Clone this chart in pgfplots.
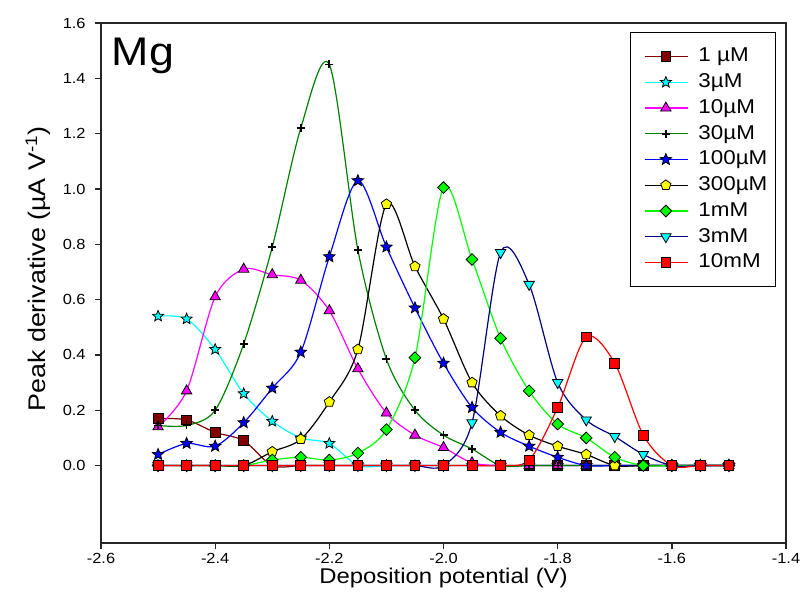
\documentclass[border=0pt]{standalone}
\usepackage{fontspec}
\setmainfont{Liberation Sans}[FakeStretch=1.12]
\usepackage{pgfplots}
\pgfplotsset{compat=1.18}
\usepackage{pgfplotstable}
\usetikzlibrary{plotmarks}

\definecolor{maroonc}{RGB}{128,0,0}
\definecolor{dgreen}{RGB}{0,128,0}
\definecolor{navyc}{RGB}{0,0,128}
\definecolor{lgreen}{RGB}{0,255,0}
\definecolor{cyanc}{RGB}{0,255,255}
\definecolor{magc}{RGB}{255,0,255}
\definecolor{bluec}{RGB}{0,0,255}
\definecolor{redc}{RGB}{255,0,0}
\definecolor{yellowc}{RGB}{255,255,0}

\pgfdeclareplotmark{fstar}{%
  \pgfpathmoveto{\pgfpointpolar{90}{\pgfplotmarksize}}%
  \pgfpathlineto{\pgfpointpolar{126}{0.45\pgfplotmarksize}}%
  \pgfpathlineto{\pgfpointpolar{162}{\pgfplotmarksize}}%
  \pgfpathlineto{\pgfpointpolar{198}{0.45\pgfplotmarksize}}%
  \pgfpathlineto{\pgfpointpolar{234}{\pgfplotmarksize}}%
  \pgfpathlineto{\pgfpointpolar{270}{0.45\pgfplotmarksize}}%
  \pgfpathlineto{\pgfpointpolar{306}{\pgfplotmarksize}}%
  \pgfpathlineto{\pgfpointpolar{342}{0.45\pgfplotmarksize}}%
  \pgfpathlineto{\pgfpointpolar{18}{\pgfplotmarksize}}%
  \pgfpathlineto{\pgfpointpolar{54}{0.45\pgfplotmarksize}}%
  \pgfpathclose
  \pgfusepathqfillstroke
}

\pgfplotstableread{
x     a     b     c     d     e     f     g     h     i
-2.50 0.17  0.54  0.14  0.145 0.04  0     0     0     0
-2.45 0.165 0.53  0.27  0.145 0.08  0     0     0     0
-2.40 0.12  0.42  0.61  0.20  0.07  0     0     0     0
-2.35 0.09  0.26  0.71  0.44  0.155 0     0     0     0
-2.30 0     0.16  0.69  0.79  0.28  0.05  0.02  0     0
-2.25 0     0.10  0.67  1.22  0.41  0.095 0.03  0     0
-2.20 0     0.08  0.56  1.45  0.755 0.23  0.02  0     0
-2.15 0     0     0.35  0.78  1.03  0.42  0.045 0     0
-2.10 0     0     0.19  0.385 0.79  0.945 0.13  0     0
-2.05 0     0     0.11  0.20  0.57  0.72  0.39  0     0
-2.00 0     0     0.065 0.11  0.37  0.53  1.005 0     0
-1.95 0     0     0.01  0.06  0.21  0.30  0.745 0.155 0
-1.90 0     0     0     0     0.12  0.18  0.46  0.77  0
-1.85 0     0     0     0     0.07  0.11  0.27  0.655 0.02
-1.80 0     0     0     0     0.03  0.07  0.15  0.30  0.21
-1.75 0     0     0     0     0     0.04  0.10  0.165 0.465
-1.70 0     0     0     0     0     0     0.03  0.105 0.37
-1.65 0     0     0     0     0     0     0     0.04  0.11
-1.60 0     0     0     0     0     0     0     0     0
-1.55 0     0     0     0     0     0     0     0     0
-1.50 0     0     0     0     0     0     0     0     0
}\data

\begin{document}
\begin{tikzpicture}
\useasboundingbox (-75.75pt,-40.5pt) rectangle (526.5pt,407.25pt);
\begin{axis}[
  at={(0,0)}, anchor=south west,
  scale only axis, width=513.75pt, height=390pt,
  xmin=-2.6, xmax=-1.4, ymin=-0.28, ymax=1.6,
  xtick={-2.6,-2.4,-2.2,-2.0,-1.8,-1.6,-1.4},
  ytick={0,0.2,0.4,0.6,0.8,1.0,1.2,1.4,1.6},
  tick pos=left, tick align=outside, major tick length=4.5pt,
  minor tick num=0,
  axis line style={line width=1pt, black!85},
  every tick/.style={line width=1pt, black!85},
  /pgf/number format/.cd, fixed, fixed zerofill, precision=1, assume math mode=true,
  /pgfplots/.cd,
  ticklabel style={font=\fontsize{11}{13}\selectfont},
  yticklabel style={xshift=-3.5pt},
  xlabel={Deposition potential (V)},
  ylabel={Peak derivative (µA V\textsuperscript{-1})},
  x label style={at={(axis description cs:0.5,-0.0673)}, anchor=center, font=\fontsize{16}{18}\selectfont},
  y label style={at={(axis description cs:-0.092,0.527)}, anchor=center, font=\fontsize{18}{20}\selectfont},
  legend style={at={(rel axis cs:1,1)}, xshift=-7.5pt, yshift=-6.75pt, anchor=north east,
    draw=black, line width=0.9pt, font=\fontsize{15}{17}\selectfont,
    row sep=3.3pt, column sep=7pt, inner xsep=5pt, inner ysep=10pt,
    nodes={inner sep=1pt, text height=11pt, text depth=3pt}},
  legend cell align=left,
  legend image code/.code={\path (0pt,0pt); \draw[mark repeat=2,mark phase=2] plot coordinates {(5pt,0pt) (21pt,0pt) (37pt,0pt)};},
  every axis plot/.append style={line width=0.9pt, smooth},
]
\addplot[color=maroonc, mark=square*, mark size=3.7pt, mark options={fill=maroonc, draw=black, line width=0.6pt}] table[x=x,y=a]{\data};
\addlegendentry{1 µM}
\addplot[color=cyanc, mark=fstar, mark size=4.3pt, mark options={fill=cyanc, draw=black, line width=0.6pt}] table[x=x,y=b]{\data};
\addlegendentry{3µM}
\addplot[color=magc, mark=triangle*, mark size=4.5pt, mark options={fill=magc, draw=black, line width=0.6pt}] table[x=x,y=c]{\data};
\addlegendentry{10µM}
\addplot[color=dgreen, mark=+, mark size=3pt, mark options={draw=black, line width=1.3pt}] table[x=x,y=d]{\data};
\addlegendentry{30µM}
\addplot[color=bluec, mark=fstar, mark size=4.5pt, mark options={fill=bluec, draw=black, line width=0.6pt}] table[x=x,y=e]{\data};
\addlegendentry{100µM}
\addplot[color=black, mark=pentagon*, mark size=4pt, mark options={fill=yellowc, draw=black, line width=0.6pt}] table[x=x,y=f]{\data};
\addlegendentry{300µM}
\addplot[color=lgreen, mark=square*, mark size=3.1pt, mark options={rotate=45, fill=lgreen, draw=black, line width=0.6pt}] table[x=x,y=g]{\data};
\addlegendentry{1mM}
\addplot[color=navyc, mark=triangle*, mark size=4.5pt, mark options={rotate=180, fill=cyanc, draw=black, line width=0.6pt}] table[x=x,y=h]{\data};
\addlegendentry{3mM}
\addplot[color=redc, mark=square*, mark size=3.7pt, mark options={fill=redc, draw=black, line width=0.6pt}] table[x=x,y=i]{\data};
\addlegendentry{10mM}
\node[anchor=north west, inner sep=0pt, font=\fontsize{30}{33}\selectfont] at (rel axis cs:0,1) [xshift=8pt, yshift=-11pt] {Mg};
\end{axis}
\end{tikzpicture}
\end{document}
